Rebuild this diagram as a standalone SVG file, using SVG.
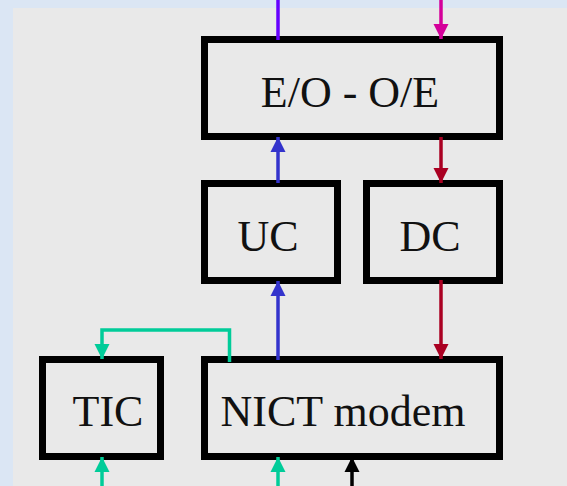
<svg xmlns="http://www.w3.org/2000/svg" width="567" height="486" viewBox="0 0 567 486">
<style>
.box{fill:#e9e9e9;stroke:#000;stroke-width:7}
.lbl{font-family:"Liberation Serif","DejaVu Serif",serif;font-size:44px;fill:#111;text-anchor:middle}
.c{fill:none;stroke-width:3.5}
</style>
<defs>
<marker id="aGreen" viewBox="0 0 10 10" refX="10" refY="5" markerWidth="4.3" markerHeight="4.3" markerUnits="strokeWidth" orient="auto"><path d="M0,0L10,5L0,10z" fill="#00cc99"/></marker>
<marker id="aBlue" viewBox="0 0 10 10" refX="10" refY="5" markerWidth="4.3" markerHeight="4.3" markerUnits="strokeWidth" orient="auto"><path d="M0,0L10,5L0,10z" fill="#3333cc"/></marker>
<marker id="aRed" viewBox="0 0 10 10" refX="10" refY="5" markerWidth="4.3" markerHeight="4.3" markerUnits="strokeWidth" orient="auto"><path d="M0,0L10,5L0,10z" fill="#aa0022"/></marker>
<marker id="aMag" viewBox="0 0 10 10" refX="10" refY="5" markerWidth="4.3" markerHeight="4.3" markerUnits="strokeWidth" orient="auto"><path d="M0,0L10,5L0,10z" fill="#d4009a"/></marker>
<marker id="aBlack" viewBox="0 0 10 10" refX="10" refY="5" markerWidth="4.3" markerHeight="4.3" markerUnits="strokeWidth" orient="auto"><path d="M0,0L10,5L0,10z" fill="#000"/></marker>
</defs>
<rect x="0" y="0" width="567" height="486" fill="#dbe6f4"/>
<rect x="13" y="8" width="554" height="478" fill="#e9e9e9"/>
<g id="eooe"><rect class="box" x="204.5" y="39.5" width="295" height="97"/><text class="lbl" x="350" y="107">E/O - O/E</text></g>
<g id="uc"><rect class="box" x="204.5" y="183.5" width="133" height="97"/><text class="lbl" x="268" y="251">UC</text></g>
<g id="dc"><rect class="box" x="366.5" y="183.5" width="133" height="97"/><text class="lbl" x="430" y="251">DC</text></g>
<g id="tic"><rect class="box" x="42.5" y="359.5" width="118" height="97"/><text class="lbl" x="108" y="426">TIC</text></g>
<g id="nict"><rect class="box" x="204.5" y="359.5" width="295" height="97"/><text class="lbl" x="343" y="426">NICT modem</text></g>
<g id="connectors">
<line class="c" x1="278" y1="0" x2="278" y2="40" stroke="#6600ff"/>
<line class="c" x1="441" y1="0" x2="441" y2="39" stroke="#d4009a" marker-end="url(#aMag)"/>
<line class="c" x1="278" y1="183" x2="278" y2="137" stroke="#3333cc" marker-end="url(#aBlue)"/>
<line class="c" x1="441" y1="137" x2="441" y2="183" stroke="#aa0022" marker-end="url(#aRed)"/>
<line class="c" x1="278" y1="360" x2="278" y2="281" stroke="#3333cc" marker-end="url(#aBlue)"/>
<line class="c" x1="441" y1="280" x2="441" y2="359" stroke="#aa0022" marker-end="url(#aRed)"/>
<polyline class="c" points="229.5,362 229.5,330 102,330 102,359" stroke="#00cc99" stroke-linejoin="miter" marker-end="url(#aGreen)"/>
<line class="c" x1="102" y1="486" x2="102" y2="457" stroke="#00cc99" marker-end="url(#aGreen)"/>
<line class="c" x1="278" y1="486" x2="278" y2="457" stroke="#00cc99" marker-end="url(#aGreen)"/>
<line class="c" x1="352" y1="486" x2="352" y2="457" stroke="#000" marker-end="url(#aBlack)"/>
</g>
</svg>
